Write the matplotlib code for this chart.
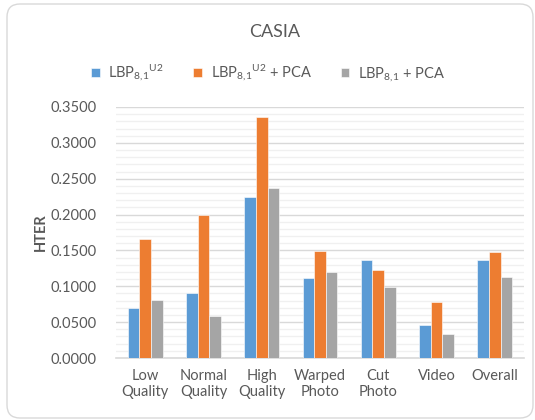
import matplotlib
matplotlib.use("Agg")
from matplotlib import pyplot as plt
from matplotlib.patches import FancyBboxPatch
from matplotlib.ticker import MultipleLocator, FormatStrFormatter
import numpy as np

categories = ["Low\nQuality", "Normal\nQuality", "High\nQuality", "Warped\nPhoto",
              "Cut\nPhoto", "Video", "Overall"]
lbp_u2 = [0.070, 0.090, 0.225, 0.111, 0.136, 0.046, 0.136]
lbp_u2_pca = [0.166, 0.199, 0.336, 0.149, 0.123, 0.078, 0.148]
lbp_pca = [0.081, 0.059, 0.237, 0.120, 0.099, 0.034, 0.113]
series_labels = [r"LBP$_{8{,}1}{}^{U2}$", r"LBP$_{8{,}1}{}^{U2}$ + PCA", r"LBP$_{8{,}1}$ + PCA"]
colors = ["#5b9bd5", "#ed7d31", "#a5a5a5"]

plt.rcParams["font.family"] = ["Lato", "DejaVu Sans"]
plt.rcParams["mathtext.fontset"] = "custom"
plt.rcParams["mathtext.rm"] = "Lato"
plt.rcParams["mathtext.default"] = "regular"
text_col = "#595959"

fig = plt.figure(figsize=(5.35, 4.2), dpi=100)
ax = fig.add_axes([116 / 535, 62 / 420, 408 / 535, 251 / 420])

# outer chart frame with rounded corners (pixel coords)
frame = FancyBboxPatch((7, 2), 526, 414, boxstyle="round,pad=0,rounding_size=13",
                       transform=None, fill=False, edgecolor="#d9d9d9", lw=1.0,
                       clip_on=False)
fig.patches.append(frame)

x = np.arange(len(categories))
w = 0.2
for i, (vals, lab, c) in enumerate(zip([lbp_u2, lbp_u2_pca, lbp_pca], series_labels, colors)):
    ax.bar(x + (i - 1) * w, vals, w, color=c, label=lab, zorder=3,
           edgecolor="white", linewidth=0.4)

ax.set_xlim(-0.5, len(categories) - 0.5)
ax.set_ylim(0, 0.35)
ax.yaxis.set_major_locator(MultipleLocator(0.05))
ax.yaxis.set_minor_locator(MultipleLocator(0.01))
ax.yaxis.set_major_formatter(FormatStrFormatter("%.4f"))
ax.grid(axis="y", which="major", color="#d9d9d9", lw=1.0, zorder=0)
ax.grid(axis="y", which="minor", color="#f0f0f0", lw=1.0, zorder=0)
for s in ["top", "right", "left"]:
    ax.spines[s].set_visible(False)
ax.spines["bottom"].set_color("#d9d9d9")
ax.spines["bottom"].set_linewidth(1.2)
ax.set_xticks(x)
ax.set_xticklabels(categories)
ax.tick_params(axis="both", which="both", length=0, colors=text_col, labelsize=10.5)
ax.tick_params(axis="y", pad=14)
ax.tick_params(axis="x", pad=8)
ax.set_ylabel("HTER", fontsize=10.5, fontweight="bold", color=text_col, labelpad=2)

fig.text(275 / 535, 1 - 32 / 420, "CASIA", ha="center", va="center",
         fontsize=13, color=text_col)
fig.legend(loc="center", bbox_to_anchor=(268 / 535, 1 - 73 / 420), ncol=3,
           frameon=False, fontsize=10.5, labelcolor=text_col, handlelength=0.6,
           handleheight=0.6, handletextpad=0.6, columnspacing=2.0)

fig.savefig("out.png", dpi=100)
